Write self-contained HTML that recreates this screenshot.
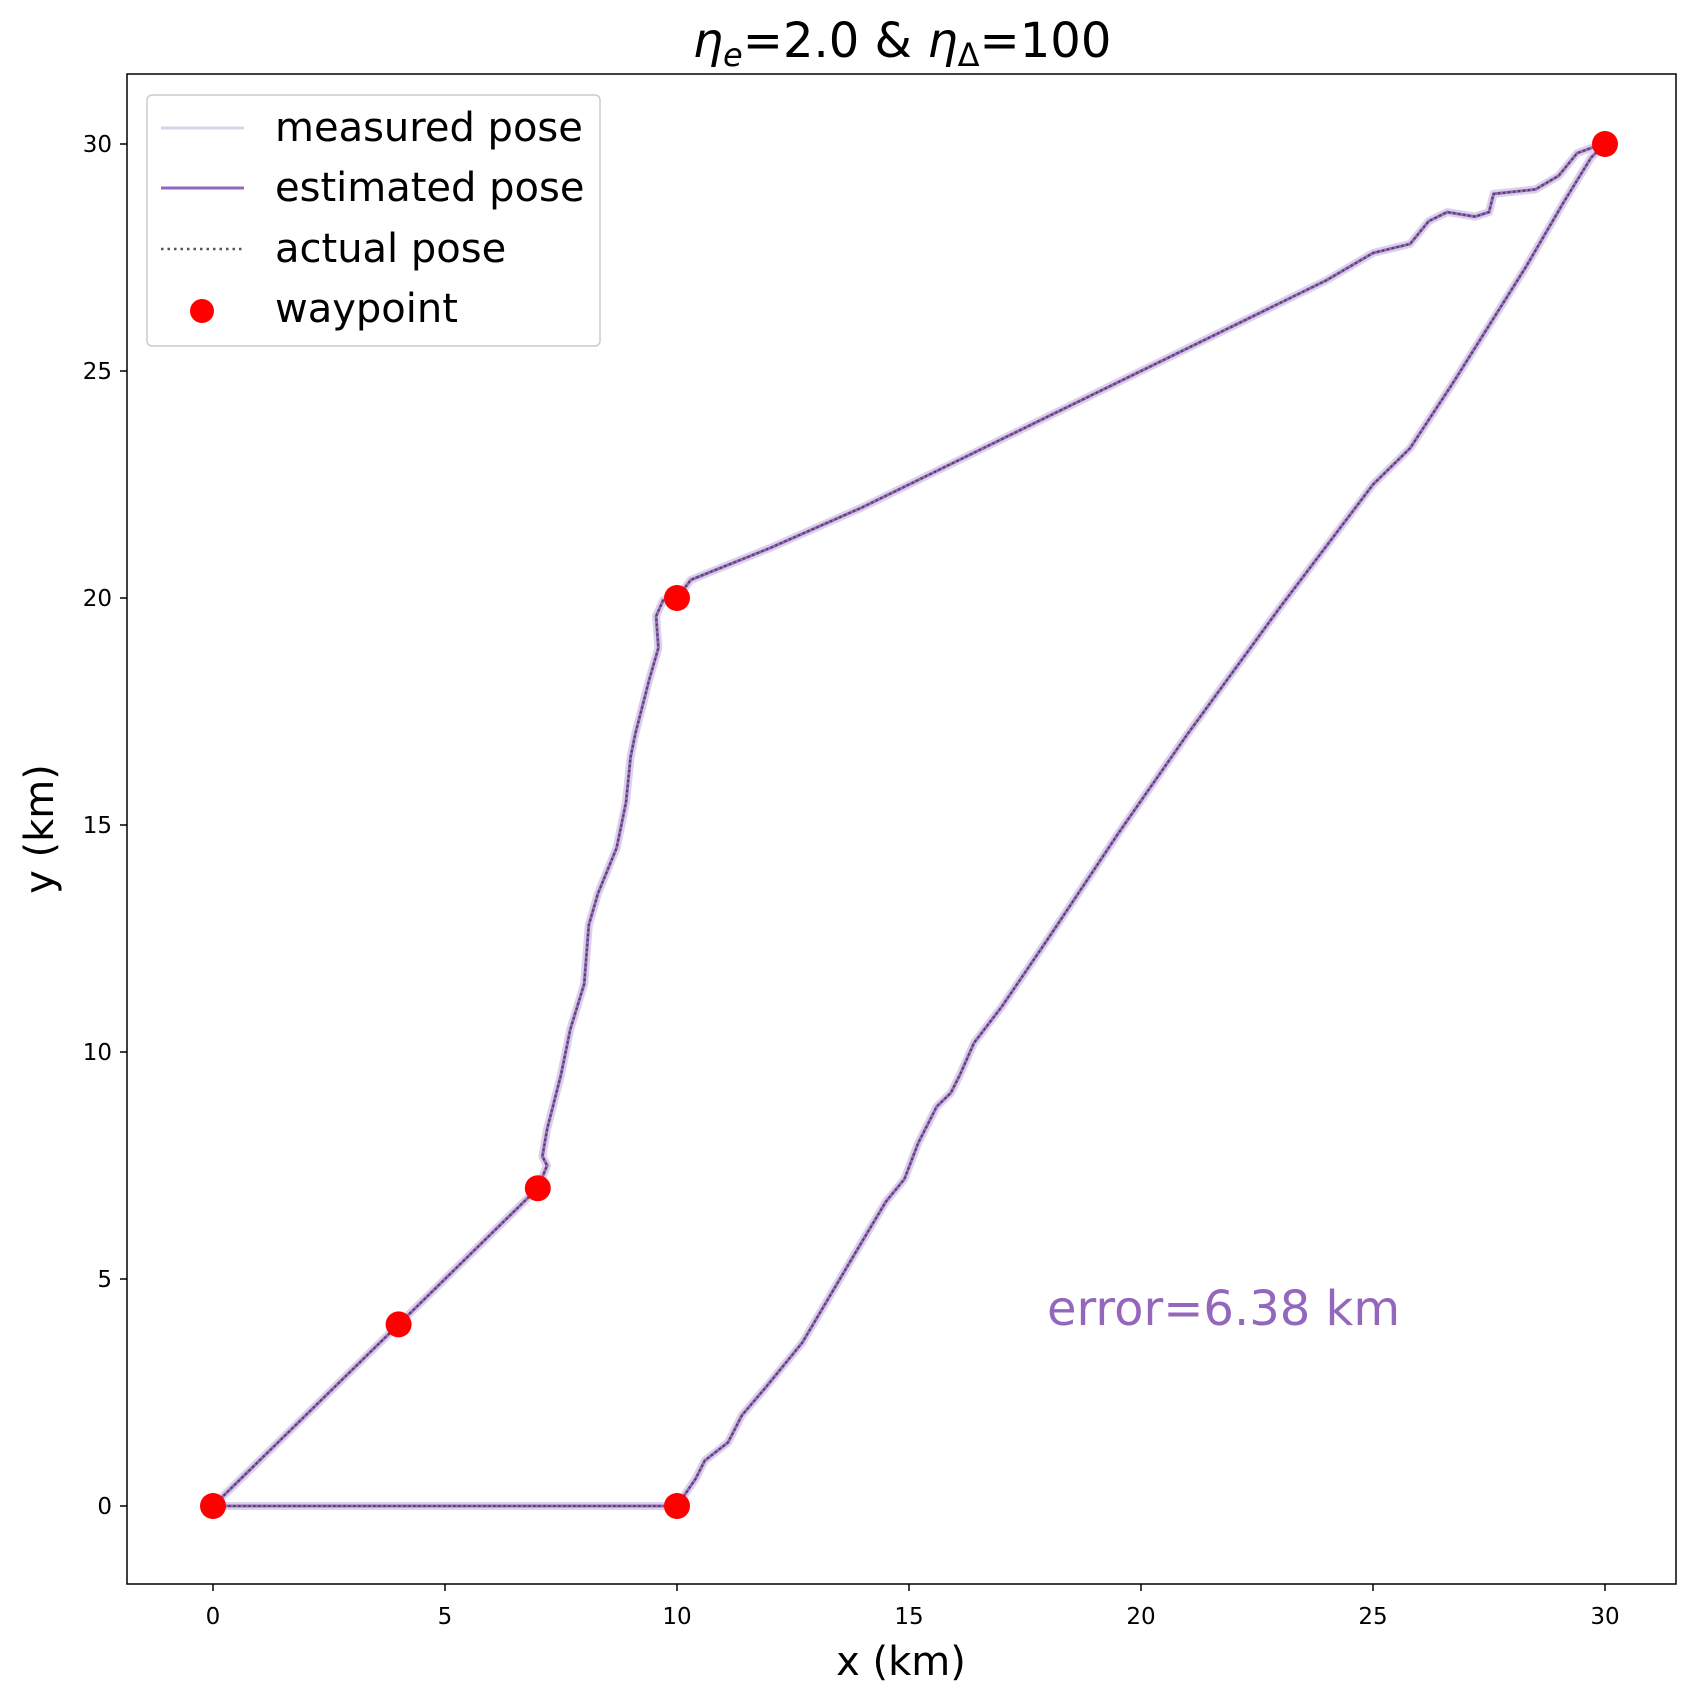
<!DOCTYPE html>
<html><head><meta charset="utf-8"><style>
body{margin:0;background:#fff;}
svg{display:block;font-family:"DejaVu Sans","Liberation Sans",sans-serif;}
</style></head><body>
<svg id="chart" width="1695" height="1703" viewBox="0 0 1695 1703" xmlns="http://www.w3.org/2000/svg">
<rect x="0" y="0" width="1695" height="1703" fill="#fff"/>
<text x="902" y="57" font-size="48" text-anchor="middle" font-family="DejaVu Sans, sans-serif"><tspan font-style="italic">η</tspan><tspan font-style="italic" font-size="32" dy="9">e</tspan><tspan dy="-9">=2.0 &amp; </tspan><tspan font-style="italic">η</tspan><tspan font-size="32" dy="9">Δ</tspan><tspan dy="-9">=100</tspan></text>
<g id="plot"></g>
<rect x="127" y="74" width="1549" height="1510" fill="none" stroke="#000" stroke-width="1.5"/>
<g id="axes"></g>
<text x="901" y="1675" font-size="40" text-anchor="middle" font-family="DejaVu Sans, sans-serif">x (km)</text>
<text transform="translate(53,829) rotate(-90)" font-size="40" text-anchor="middle" font-family="DejaVu Sans, sans-serif">y (km)</text>
<text x="1047" y="1325" font-size="48" fill="#9467bd" font-family="DejaVu Sans, sans-serif">error=6.38 km</text>
<g>
<rect x="147" y="95" width="453" height="251" rx="5" fill="#fff" fill-opacity="0.8" stroke="#ccc" stroke-width="1.5"/>
<line x1="161" y1="128" x2="244" y2="128" stroke="#dcd0ec" stroke-width="3"/>
<text x="275" y="141" font-size="40" font-family="DejaVu Sans, sans-serif">measured pose</text>
<line x1="161" y1="188" x2="244" y2="188" stroke="#9467bd" stroke-width="3"/>
<text x="275" y="201" font-size="40" font-family="DejaVu Sans, sans-serif">estimated pose</text>
<line x1="161" y1="249" x2="244" y2="249" stroke="#555" stroke-width="2.5" stroke-dasharray="2.5,4"/>
<text x="275" y="262" font-size="40" font-family="DejaVu Sans, sans-serif">actual pose</text>
<circle cx="202" cy="311" r="12" fill="red"/>
<text x="275" y="322" font-size="40" font-family="DejaVu Sans, sans-serif">waypoint</text>
</g>
</svg>
<script>
const pathX=[0,1,2,3,4,5,6,7,7.2,7.1,7.2,7.5,7.7,8.0,8.1,8.3,8.7,8.9,9.0,9.1,9.4,9.6,9.55,9.7,10,10.3,12,14,16,18,20,22,24,25,25.8,26.2,26.6,27.2,27.5,27.6,28.5,29,29.4,29.8,30,29.7,29.1,28.3,27.5,26.7,25.8,25,23,21,19.5,18,17,16.4,16.1,15.9,15.6,15.2,14.9,14.5,13.8,12.7,11.9,11.4,11.1,10.6,10.4,10,9,7,5,3,1,0];
const pathY=[0,1,2,3,4,5,6,7,7.5,7.7,8.3,9.5,10.5,11.5,12.8,13.5,14.5,15.5,16.5,17,18.2,18.9,19.6,19.95,20,20.4,21.1,22,23,24,25,26,27,27.6,27.8,28.3,28.5,28.4,28.5,28.9,29,29.3,29.8,29.95,30,29.7,28.7,27.3,26,24.7,23.3,22.5,19.8,17.0,14.8,12.5,11,10.2,9.5,9.1,8.8,8.0,7.2,6.7,5.5,3.6,2.6,2.0,1.4,1.0,0.6,0,0,0,0,0,0,0];
const wpX=[0,4,7,10,30,10];
const wpY=[0,4,7,20,30,0];
const xTicks=[0,5,10,15,20,25,30];
const yTicks=[0,5,10,15,20,25,30];
const sx=v=>213+v*46.4;
const sy=v=>1506-v*45.4;
const NS="http://www.w3.org/2000/svg";
const plot=document.getElementById('plot'),axes=document.getElementById('axes');
function mk(t,a,p){const e=document.createElementNS(NS,t);for(const k in a)e.setAttribute(k,a[k]);p.appendChild(e);return e;}
const d=pathX.map((x,i)=>(i?'L':'M')+sx(x).toFixed(1)+','+sy(pathY[i]).toFixed(1)).join(' ');
const m=mk('path',{d:d,fill:'none',stroke:'#dcd0ec','stroke-width':8,'stroke-linejoin':'round'},plot);


const es=mk('path',{d:d,fill:'none',stroke:'#9467bd','stroke-width':3,'stroke-linejoin':'round'},plot);


const ac=mk('path',{d:d,fill:'none',stroke:'#444','stroke-width':2,'stroke-dasharray':'2,3'},plot);


wpX.forEach((x,i)=>{const c=mk('circle',{cx:sx(x),cy:sy(wpY[i]),r:13,fill:'red'},plot);

});
xTicks.forEach(v=>{mk('line',{x1:sx(v),x2:sx(v),y1:1584,y2:1591,stroke:'#000','stroke-width':1.5},axes);
const t=mk('text',{x:sx(v),y:1624,'font-size':23,'text-anchor':'middle','font-family':'DejaVu Sans, sans-serif'},axes);t.textContent=v;

});
yTicks.forEach(v=>{mk('line',{x1:120,x2:127,y1:sy(v),y2:sy(v),stroke:'#000','stroke-width':1.5},axes);
const t=mk('text',{x:112,y:sy(v)+8,'font-size':23,'text-anchor':'end','font-family':'DejaVu Sans, sans-serif'},axes);t.textContent=v;

});
</script>
</body></html>
